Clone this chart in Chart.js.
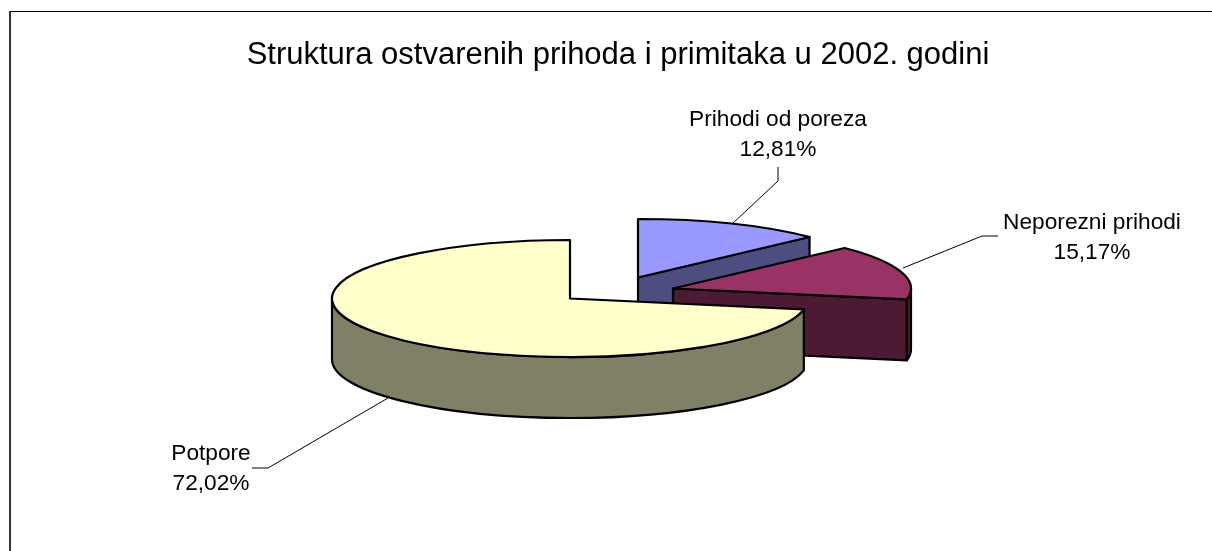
<!DOCTYPE html>
<html>
<head>
<meta charset="utf-8">
<title>Struktura ostvarenih prihoda i primitaka u 2002. godini</title>
<script src="https://cdn.jsdelivr.net/npm/chart.js@4/dist/chart.umd.js"></script>
<style>
  html, body { margin: 0; padding: 0; background: #fff; }
  #wrap { position: relative; width: 1212px; height: 551px; overflow: hidden; }
  #frame { position: absolute; left: 9px; top: 11px; right: -5px; bottom: -5px; border-left: 2px solid #333; border-top: 1px solid #000; }
  canvas { position: absolute; left: 0; top: 0; }
</style>
</head>
<body>
<div id="wrap">
  <div id="frame"></div>
  <canvas id="pie" width="1212" height="551"></canvas>
</div>
<script>
const chartTitle = 'Struktura ostvarenih prihoda i primitaka u 2002. godini';
const categories = ['Prihodi od poreza', 'Neporezni prihodi', 'Potpore'];
const shares = [12.81, 15.17, 72.02];

const topColors = ['#9999FF', '#993366', '#FFFFCC'];
const sideColors = ['#4D4D80', '#4D1A33', '#808066'];

// 3D look: where the flattened pie sits on the page
const PIE = { cx: 570, cy: 298.5, rx: 238, ry: 58.5, depth: 61 };
// how far each slice is pulled out of the pie
const explode = [{ x: 68, y: -21 }, { x: 103, y: -10 }, { x: 0, y: 0 }];

// label anchor and leader line per slice
const labelSpots = [
  { x: 778, y: 126, line: [[732, 224], [778, 181], [778, 167]] },
  { x: 1092, y: 229, line: [[903, 268], [982, 236], [998, 236]] },
  { x: 211, y: 460, line: [[388, 398], [268, 468], [252, 468]] }
];

const LABEL_FONT = '22.7px "Liberation Sans", Arial, sans-serif';
const LINE_GAP = 30;

function fmtShare(v) {
  return v.toFixed(2).replace('.', ',') + '%';
}

// Side faces that look towards the viewer, then the top of the slice
function drawSlice(ctx, arc, idx) {
  const cx = PIE.cx + explode[idx].x;
  const cy = PIE.cy + explode[idx].y;
  const a0 = arc.startAngle;
  const a1 = arc.endAngle;
  const d = PIE.depth;

  ctx.lineWidth = 2.2;
  ctx.lineJoin = 'round';
  ctx.strokeStyle = '#000';
  ctx.fillStyle = sideColors[idx];

  const radialFace = a => {
    const x = cx + PIE.rx * Math.cos(a);
    const y = cy + PIE.ry * Math.sin(a);
    ctx.beginPath();
    ctx.moveTo(cx, cy);
    ctx.lineTo(x, y);
    ctx.lineTo(x, y + d);
    ctx.lineTo(cx, cy + d);
    ctx.closePath();
    ctx.fill();
    ctx.stroke();
  };
  if (Math.cos(a0) < -1e-6) radialFace(a0);
  if (Math.cos(a1) > 1e-6) radialFace(a1);

  const from = Math.max(a0, 0);
  const to = Math.min(a1, Math.PI);
  if (to > from) {
    ctx.beginPath();
    ctx.ellipse(cx, cy, PIE.rx, PIE.ry, 0, from, to);
    ctx.ellipse(cx, cy + d, PIE.rx, PIE.ry, 0, to, from, true);
    ctx.closePath();
    ctx.fill();
    ctx.stroke();
  }

  // top face comes from the library's own arc, squashed into the ellipse
  ctx.save();
  ctx.translate(cx, cy);
  ctx.scale(PIE.rx / arc.outerRadius, PIE.ry / arc.outerRadius);
  ctx.translate(-arc.x, -arc.y);
  arc.draw(ctx);
  ctx.restore();

  ctx.beginPath();
  ctx.moveTo(cx, cy);
  ctx.ellipse(cx, cy, PIE.rx, PIE.ry, 0, a0, a1);
  ctx.closePath();
  ctx.stroke();
}

const pie3d = {
  id: 'pie3d',
  beforeDatasetDraw(chart) {
    const ctx = chart.ctx;
    ctx.save();
    chart.getDatasetMeta(0).data.forEach((arc, i) => drawSlice(ctx, arc, i));
    ctx.restore();
    return false;
  },
  afterDatasetsDraw(chart) {
    const ctx = chart.ctx;
    ctx.save();
    ctx.font = LABEL_FONT;
    ctx.fillStyle = '#000';
    ctx.textAlign = 'center';
    ctx.textBaseline = 'alphabetic';
    categories.forEach((name, i) => {
      const spot = labelSpots[i];
      ctx.fillText(name, spot.x, spot.y);
      ctx.fillText(fmtShare(shares[i]), spot.x, spot.y + LINE_GAP);

      ctx.beginPath();
      ctx.strokeStyle = '#000';
      ctx.lineWidth = 1;
      spot.line.forEach((p, k) => k ? ctx.lineTo(p[0], p[1]) : ctx.moveTo(p[0], p[1]));
      ctx.stroke();
    });
    ctx.restore();
  }
};

new Chart(document.getElementById('pie'), {
  type: 'pie',
  data: {
    labels: categories,
    datasets: [{
      data: shares,
      backgroundColor: topColors,
      borderWidth: 0
    }]
  },
  plugins: [pie3d],
  options: {
    responsive: false,
    animation: false,
    layout: { padding: { left: 24 } },
    plugins: {
      legend: { display: false },
      tooltip: { enabled: false },
      title: {
        display: true,
        text: chartTitle,
        color: '#000',
        font: { family: '"Liberation Sans", Arial, sans-serif', size: 31, weight: 'normal' },
        padding: { top: 37, bottom: 4 }
      }
    }
  }
});
</script>
</body>
</html>
